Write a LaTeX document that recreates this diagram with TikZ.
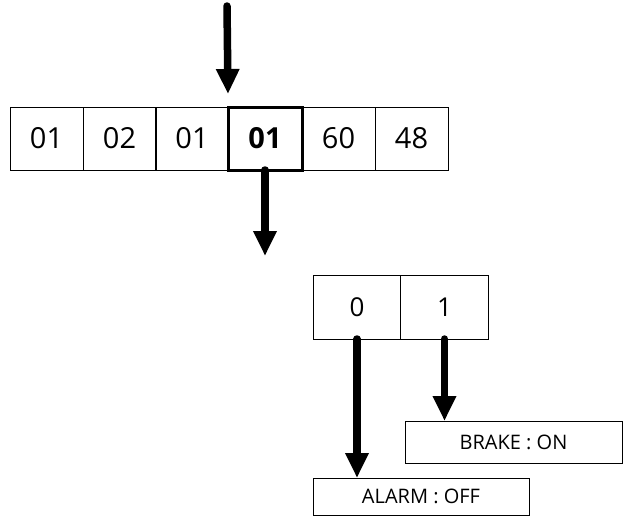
\documentclass[tikz,border=0pt]{standalone}
\usepackage{fontspec}
\setmainfont{Open Sans}
\usetikzlibrary{arrows.meta,calc}
\begin{document}
\begin{tikzpicture}[x=1pt,y=-1pt,
  cell/.style={draw,line width=1pt,minimum width=73pt,minimum height=63pt,inner sep=0pt,outer sep=0pt,font=\fontsize{29}{32}\selectfont},
  bitcell/.style={draw,line width=1pt,minimum width=87.5pt,minimum height=64pt,inner sep=0pt,outer sep=0pt,font=\fontsize{26}{30}\selectfont},
  label box/.style={draw,line width=1pt,inner sep=0pt,outer sep=0pt,font=\fontsize{20}{23}\selectfont},
  bigarrow/.style={line width=7.5pt,line cap=round,-{Triangle[width=22pt,length=25pt]}}]
\useasboundingbox (0,0) rectangle (624,522);
\node[cell] (c1) at (46.5,138.5) {01};
\node[cell] (c2) at (119.5,138.5) {02};
\node[cell] (c3) at (192,138.5) {01};
\node[cell] (c5) at (338.5,138.5) {60};
\node[cell] (c6) at (411.5,138.5) {48};
\node[cell,line width=3pt,minimum width=74pt] (c4) at (265,138.5) {\bfseries 01};
\node[bitcell] (b0) at (357,307) {0};
\node[bitcell] (b1) at (444.5,307) {1};
\node[label box,minimum width=217pt,minimum height=42pt] (brake) at (513.5,442) {BRAKE : ON};
\node[label box,minimum width=216pt,minimum height=37pt] (alarm) at (421,496.5) {ALARM : OFF};
\coordinate (in) at (227,6);
\coordinate (out) at (265,256);
\draw[bigarrow] (in) -- ([yshift=13pt]c4.north west);
\draw[bigarrow] (c4.south) -- (out);
\draw[bigarrow] (b0.south) -- (b0.south |- alarm.north);
\draw[bigarrow] (b1.south) -- (b1.south |- brake.north);
\end{tikzpicture}
\end{document}
